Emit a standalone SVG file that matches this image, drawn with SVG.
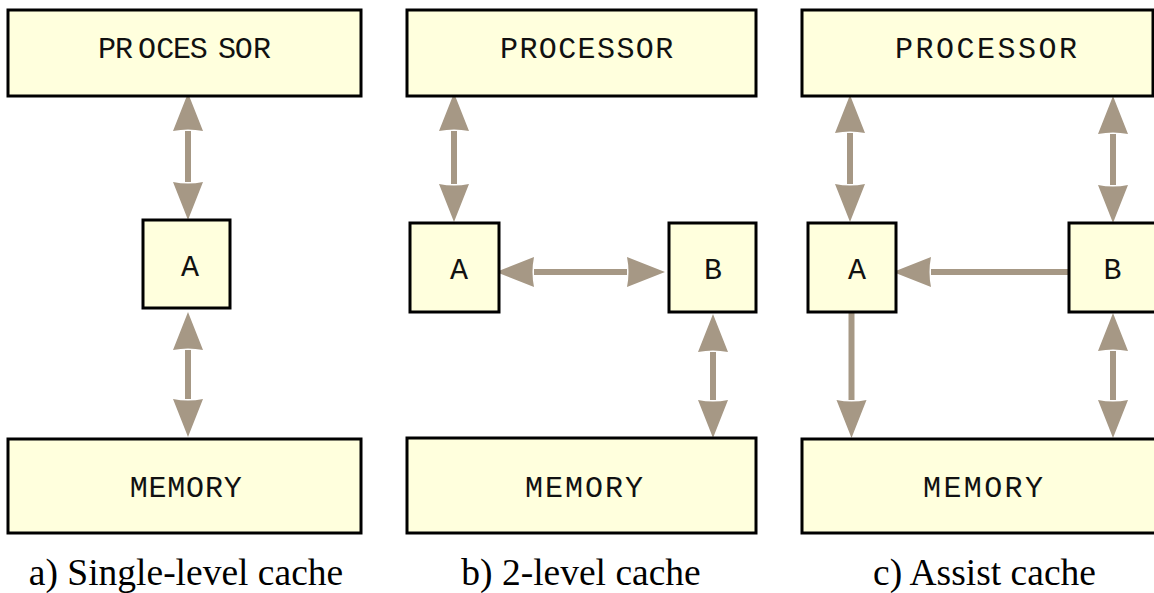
<svg xmlns="http://www.w3.org/2000/svg" width="1154" height="593" viewBox="0 0 1154 593">
<style>
.box{fill:#FFFFDD;stroke:#000;stroke-width:3}
.lbl{font-family:"Liberation Mono","Courier New",monospace;font-size:30px;fill:#111}
.cap{font-family:"Liberation Serif","Times New Roman",serif;font-size:37.5px;fill:#000;text-anchor:middle}
.con{stroke:#A69885;stroke-width:6;fill:none}
.mid{text-anchor:middle}
</style>
<defs>
<marker id="ah" markerUnits="userSpaceOnUse" markerWidth="40" markerHeight="32" viewBox="0 0 40 32" refX="0" refY="15" orient="auto-start-reverse">
<path d="M0,0 L38,15 L0,30 Q3,15 0,0 z" fill="#A69885"/>
</marker>
</defs>
<rect width="1154" height="593" fill="#fff"/>
<g id="connectors">
<path class="con" d="M188,131 V182" marker-start="url(#ah)" marker-end="url(#ah)"/>
<path class="con" d="M188,350 V399" marker-start="url(#ah)" marker-end="url(#ah)"/>
<path class="con" d="M454,131 V184" marker-start="url(#ah)" marker-end="url(#ah)"/>
<path class="con" d="M534,272 H627" marker-start="url(#ah)" marker-end="url(#ah)"/>
<path class="con" d="M713,352 V400" marker-start="url(#ah)" marker-end="url(#ah)"/>
<path class="con" d="M850,133 V184" marker-start="url(#ah)" marker-end="url(#ah)"/>
<path class="con" d="M1113,134 V185" marker-start="url(#ah)" marker-end="url(#ah)"/>
<path class="con" d="M1069,272 H931" marker-end="url(#ah)"/>
<path class="con" d="M851.5,311 V400" marker-end="url(#ah)"/>
<path class="con" d="M1113,351 V400" marker-start="url(#ah)" marker-end="url(#ah)"/>
</g>
<g id="a-processor"><rect class="box" x="8" y="10" width="353" height="86"/><text class="lbl" x="98 115 138 156.3 173 189.7 218 234.7 253" y="58">PROCESSOR</text></g>
<g id="a-cache-a"><rect class="box" x="143" y="220" width="87" height="88"/><text class="lbl mid" x="190" y="276">A</text></g>
<g id="a-memory"><rect class="box" x="8" y="439" width="353" height="94"/><text class="lbl" x="129.7 148.5 167.3 186.1 204.9 223.7" y="497">MEMORY</text></g>
<g id="b-processor"><rect class="box" x="407" y="10" width="349" height="86"/><text class="lbl" x="500 519.4 538.8 558.2 577.6 597 616.4 635.8 655.2" y="58">PROCESSOR</text></g>
<g id="b-cache-a"><rect class="box" x="410" y="223" width="89" height="89"/><text class="lbl mid" x="459" y="279">A</text></g>
<g id="b-cache-b"><rect class="box" x="669" y="223" width="87" height="89"/><text class="lbl mid" x="713" y="279">B</text></g>
<g id="b-memory"><rect class="box" x="407" y="438" width="349" height="95"/><text class="lbl" x="525 545 565 585 605 625" y="497">MEMORY</text></g>
<g id="c-processor"><rect class="box" x="802" y="10" width="351" height="86"/><text class="lbl" x="895 915.5 936 956.5 977 997.5 1018 1038.5 1059" y="58">PROCESSOR</text></g>
<g id="c-cache-a"><rect class="box" x="808" y="223" width="88" height="89"/><text class="lbl mid" x="857" y="279">A</text></g>
<g id="c-cache-b"><rect class="box" x="1069" y="223" width="88" height="89"/><text class="lbl mid" x="1112.5" y="279">B</text></g>
<g id="c-memory"><rect class="box" x="802" y="439" width="354" height="94"/><text class="lbl" x="923 943.4 963.8 984.2 1004.6 1025" y="497">MEMORY</text></g>
<g id="captions">
<text class="cap" x="186" y="585">a) Single-level cache</text>
<text class="cap" x="581" y="585">b) 2-level cache</text>
<text class="cap" x="984.5" y="585">c) Assist cache</text>
</g>
</svg>
